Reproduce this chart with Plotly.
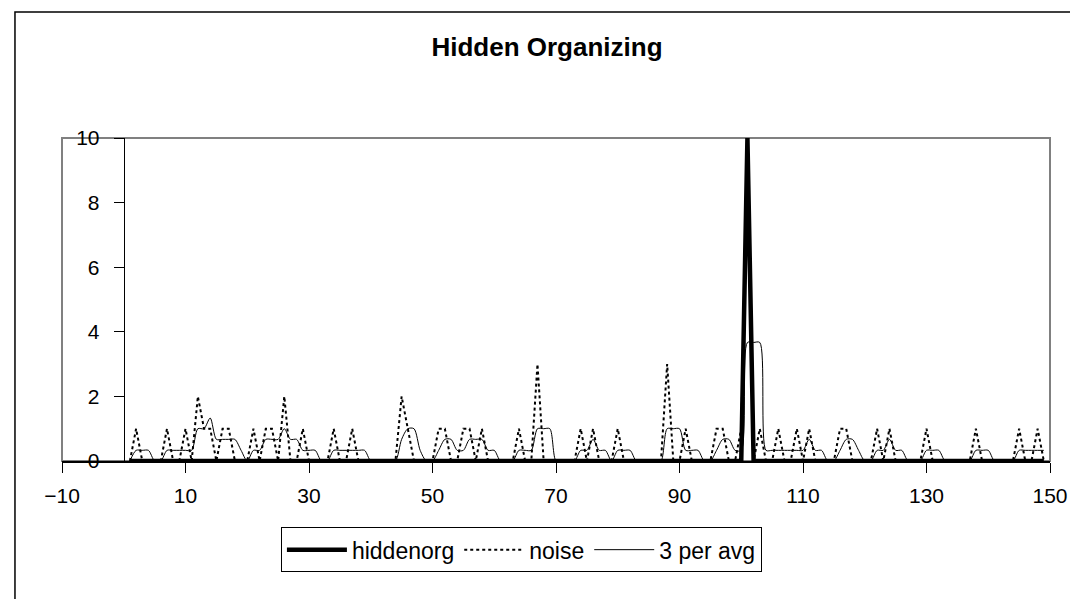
import plotly.graph_objects as go

# x positions (periods 1..149)
periods = list(range(1, 150))

# hidden organizing signal: flat with a single burst at period 101
hiddenorg = [0] * 100 + [10] + [0] * 48

# noise series (rows of 10 periods)
noise = [
    0, 1, 0, 0, 0, 0, 1, 0, 0, 1,
    0, 2, 1, 1, 0, 1, 1, 0, 0, 0,
    1, 0, 1, 1, 0, 2, 0, 0, 1, 0,
    0, 0, 0, 1, 0, 0, 1, 0, 0, 0,
    0, 0, 0, 0, 2, 1, 0, 0, 0, 0,
    1, 1, 0, 0, 1, 1, 0, 1, 0, 0,
    0, 0, 0, 1, 0, 0, 3, 0, 0, 0,
    0, 0, 0, 1, 0, 1, 0, 0, 0, 1,
    0, 0, 0, 0, 0, 0, 0, 3, 0, 0,
    1, 0, 0, 0, 0, 1, 1, 0, 0, 1,
    10, 0, 1, 0, 0, 1, 0, 0, 1, 0,
    1, 0, 0, 0, 0, 1, 1, 0, 0, 0,
    0, 1, 0, 1, 0, 0, 0, 0, 0, 1,
    0, 0, 0, 0, 0, 0, 0, 1, 0, 0,
    0, 0, 0, 0, 1, 0, 0, 1, 0,
]

# 3 period average
avg3 = [
    0, 0.33, 0.33, 0.33, 0, 0, 0.33, 0.33, 0.33, 0.33,
    0.33, 1, 1, 1.33, 0.67, 0.67, 0.67, 0.67, 0.33, 0,
    0.33, 0.33, 0.67, 0.67, 0.67, 1, 0.67, 0.67, 0.33, 0.33,
    0.33, 0, 0, 0.33, 0.33, 0.33, 0.33, 0.33, 0.33, 0,
    0, 0, 0, 0, 0.67, 1, 1, 0.33, 0, 0,
    0.33, 0.67, 0.67, 0.33, 0.33, 0.67, 0.67, 0.67, 0.33, 0.33,
    0, 0, 0, 0.33, 0.33, 0.33, 1, 1, 1, 0,
    0, 0, 0, 0.33, 0.33, 0.67, 0.33, 0.33, 0, 0.33,
    0.33, 0.33, 0, 0, 0, 0, 0, 1, 1, 1,
    0.33, 0.33, 0.33, 0, 0, 0.33, 0.67, 0.67, 0.33, 0.33,
    3.67, 3.67, 3.67, 0.33, 0.33, 0.33, 0.33, 0.33, 0.33, 0.33,
    0.67, 0.33, 0.33, 0, 0, 0.33, 0.67, 0.67, 0.33, 0,
    0, 0.33, 0.33, 0.67, 0.33, 0.33, 0, 0, 0, 0.33,
    0.33, 0.33, 0, 0, 0, 0, 0, 0.33, 0.33, 0.33,
    0, 0, 0, 0, 0.33, 0.33, 0.33, 0.33, 0.33,
]

x_ticks = [-10, 10, 30, 50, 70, 90, 110, 130, 150]
y_ticks = [0, 2, 4, 6, 8, 10]

FONT = "Liberation Sans, Arial, sans-serif"

fig = go.Figure()

fig.add_trace(go.Scatter(
    x=periods, y=hiddenorg, mode="lines", name="hiddenorg",
    line=dict(color="black", width=4.5),
))
fig.add_trace(go.Scatter(
    x=periods, y=noise, mode="lines", name="noise",
    line=dict(color="black", width=2, dash="dot"),
))
fig.add_trace(go.Scatter(
    x=periods, y=avg3, mode="lines", name="3 per avg",
    line=dict(color="black", width=1, shape="spline", smoothing=0.8),
))

# plot area border (grey) and outer chart border (black)
fig.add_shape(type="rect", xref="paper", yref="paper", x0=0, y0=0, x1=1, y1=1,
              line=dict(color="#808080", width=2), layer="below")
fig.add_shape(type="rect", xref="paper", yref="paper",
              x0=-0.0476, y0=-0.455, x1=1.0344, y1=1.39,
              line=dict(color="black", width=1.5), layer="below")

fig.update_layout(
    width=1078,
    height=599,
    margin=dict(l=54, r=36, t=130, b=146),
    paper_bgcolor="white",
    plot_bgcolor="white",
    font=dict(family=FONT, size=21, color="black"),
    title=dict(text="<b>Hidden Organizing</b>", x=0.5, xanchor="center",
               y=0.935, yanchor="middle", font=dict(family=FONT, size=26)),
    showlegend=True,
    legend=dict(
        orientation="h", x=0.465, xanchor="center", y=-0.205, yanchor="top",
        bordercolor="black", borderwidth=1, bgcolor="white",
        font=dict(family=FONT, size=23), itemwidth=60,
    ),
    xaxis=dict(
        range=[-10, 150], tickvals=x_ticks, showgrid=False, zeroline=False,
        showline=True, linecolor="black", linewidth=2,
        ticks="outside", ticklen=10, tickcolor="black", tickwidth=1,
        ticklabelstandoff=5,
    ),
    yaxis=dict(
        range=[0, 10], tickvals=y_ticks, showgrid=False, zeroline=False,
        showline=True, linecolor="black", linewidth=1,
        ticks="outside", ticklen=10, tickcolor="black", tickwidth=1,
        anchor="free", position=10 / 160, ticklabelstandoff=10,
    ),
)

fig.write_html("out.html")
